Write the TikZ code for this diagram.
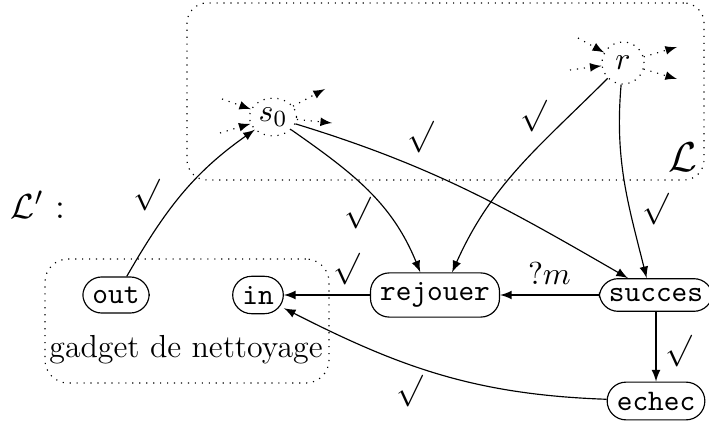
\documentclass[tikz,border=0pt]{standalone}
\usepackage{amsmath}
\usepackage{amssymb}
\usetikzlibrary{positioning,arrows,shapes,calc}

\begin{document}
\begin{tikzpicture}[x=0.345pt,y=0.345pt,>=latex,
  font=\fontsize{11}{13}\selectfont,
  statenode/.style={rectangle,draw,rounded corners=6.5pt,font=\fontsize{10.3}{12}\selectfont\ttfamily},
  ghostnode/.style={draw,dotted,inner sep=0pt},
  trans/.style={->},
  stub/.style={->,dotted},
  group/.style={rectangle,draw,dotted,rounded corners=#1},
]
\useasboundingbox (0,0) rectangle (709,423);

% ==== GROUPS ====
\node[group=7pt,minimum width=178.4pt,minimum height=61.1pt] (Lbox) at (445.5,331.5) {};
\node[font=\fontsize{14}{16}\selectfont] (Lname) at (683,266) {$\mathcal{L}$};
\node[group=8pt,minimum width=98pt,minimum height=42.8pt] (gadget) at (187,102) {};
\node (gname) at (186,73) {gadget de nettoyage};
\node[font=\fontsize{12.5}{15}\selectfont] (Lprime) at (38,218) {$\mathcal{L}'$ :};

% ==== STATES ====
\node[ghostnode,ellipse,minimum width=16.2pt,minimum height=13pt] (s0) at (273,306) {$s_0$};
\node[ghostnode,circle,minimum size=14.5pt] (r) at (623,360) {$r$};
\node[statenode] (out) at (116,128) {out};
\node[statenode] (in) at (258,128) {in};
\node[statenode] (rejouer) at (435,128) {rejouer};
\node[statenode] (succes) at (656,128) {succes};
\node[statenode] (echec) at (656,22) {echec};

% loose ends around s0 and r
\coordinate (s0a) at (222,324);
\coordinate (s0b) at (220,290);
\coordinate (s0c) at (325,334);
\coordinate (s0d) at (332,300);
\coordinate (ra) at (578,385);
\coordinate (rb) at (570,353);
\coordinate (rc) at (677,376);
\coordinate (rd) at (677,344);
\draw[stub] (s0a) -- (s0);
\draw[stub] (s0b) -- (s0);
\draw[stub] (s0) -- (s0c);
\draw[stub] (s0) -- (s0d);
\draw[stub] (ra) -- (r);
\draw[stub] (rb) -- (r);
\draw[stub] (r) -- (rc);
\draw[stub] (r) -- (rd);

% ==== TRANSITIONS ====
\draw[trans] (out) to[out=60,in=215] node[pos=0.5,left=4pt] {$\surd$} (s0);
\draw[trans] (s0) to[out=-35,in=112] node[pos=0.66,left=2pt] {$\surd$} (rejouer.123);
\draw[trans] (s0) to[out=-17,in=150] node[pos=0.35,above=2pt] {$\surd$} (succes.149);
\draw[trans] (r) to[out=225,in=66] node[pos=0.2,left=4pt] {$\surd$} (rejouer.53);
\draw[trans] (r) to[out=265,in=104] node[pos=0.65,right=1pt] {$\surd$} (succes.119);
\draw[trans] (rejouer) -- node[pos=0.27,above] {$\surd$} (in);
\draw[trans] (succes) -- node[above] {$?m$} (rejouer);
\draw[trans] (succes) -- node[pos=0.56,right=2pt,inner sep=1pt] {$\surd$} (echec);
\draw[trans] (echec) to[out=178,in=-27] node[pos=0.6,below] {$\surd$} (in);

\end{tikzpicture}
\end{document}
